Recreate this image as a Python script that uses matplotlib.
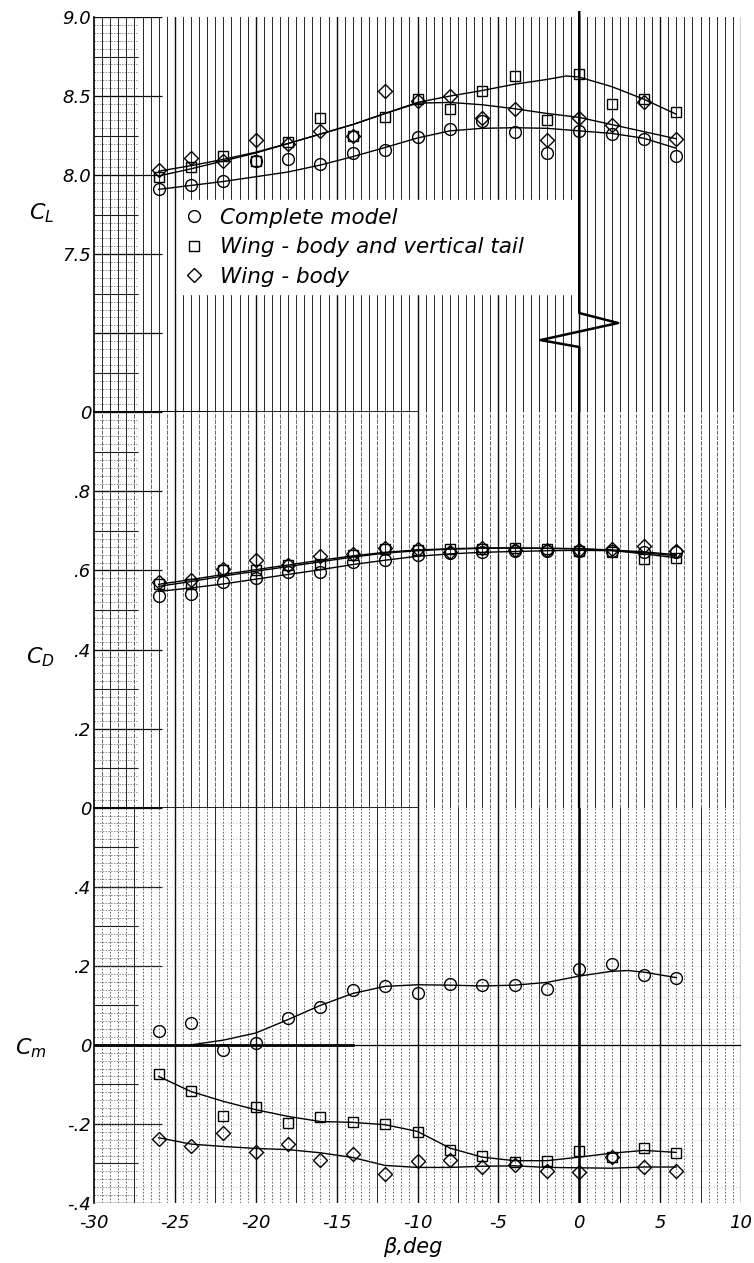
import matplotlib
matplotlib.use("Agg")
import matplotlib.pyplot as plt
import numpy as np
from matplotlib.lines import Line2D

# ---------------- data ----------------
beta = [-26, -24, -22, -20, -18, -16, -14, -12, -10, -8, -6, -4, -2, 0, 2, 4, 6]

# lift coefficient test points
cl_complete = [7.91, 7.94, 7.96, 8.09, 8.10, 8.07, 8.14, 8.16, 8.24, 8.29, 8.34, 8.27, 8.14, 8.28, 8.26, 8.23, 8.12]
cl_wbv      = [7.99, 8.05, 8.12, 8.09, 8.21, 8.36, 8.25, 8.37, 8.48, 8.42, 8.53, 8.63, 8.35, 8.64, 8.45, 8.48, 8.40]
cl_wb       = [8.03, 8.11, 8.09, 8.22, 8.20, 8.28, 8.25, 8.53, 8.47, 8.50, 8.36, 8.42, 8.22, 8.36, 8.32, 8.46, 8.23]
# faired curves
cl_complete_fair = [7.91, 7.935, 7.96, 7.99, 8.02, 8.064, 8.117, 8.175, 8.235, 8.28, 8.296, 8.30, 8.296, 8.28, 8.264, 8.233, 8.17]
cl_wbv_fair_beta = [-26, -24, -22, -20, -18, -16, -14, -12, -10, -8, -6, -4, -2, -0.8, 0, 2, 4, 6]
cl_wbv_fair      = [7.995, 8.04, 8.09, 8.14, 8.20, 8.26, 8.32, 8.39, 8.46, 8.50, 8.535, 8.575, 8.605, 8.627, 8.62, 8.56, 8.48, 8.385]
cl_wb_fair       = [8.025, 8.06, 8.10, 8.145, 8.20, 8.26, 8.32, 8.39, 8.455, 8.46, 8.445, 8.42, 8.39, 8.365, 8.32, 8.275, 8.23]

# drag coefficient
cd_complete = [0.536, 0.541, 0.571, 0.582, 0.597, 0.595, 0.622, 0.626, 0.638, 0.644, 0.647, 0.649, 0.650, 0.650, 0.650, 0.647, 0.647]
cd_wbv      = [0.566, 0.566, 0.600, 0.602, 0.613, 0.616, 0.640, 0.655, 0.653, 0.655, 0.655, 0.658, 0.655, 0.650, 0.648, 0.630, 0.632]
cd_wb       = [0.570, 0.577, 0.603, 0.627, 0.615, 0.636, 0.642, 0.656, 0.655, 0.648, 0.657, 0.652, 0.652, 0.652, 0.654, 0.661, 0.649]
cd_complete_fair = [0.547, 0.556, 0.566, 0.578, 0.590, 0.602, 0.615, 0.626, 0.636, 0.642, 0.646, 0.648, 0.650, 0.651, 0.650, 0.645, 0.637]
cd_wbv_fair      = [0.560, 0.572, 0.586, 0.598, 0.610, 0.622, 0.634, 0.644, 0.650, 0.654, 0.656, 0.657, 0.656, 0.655, 0.651, 0.642, 0.632]
cd_wb_fair       = [0.565, 0.577, 0.590, 0.602, 0.614, 0.626, 0.637, 0.646, 0.652, 0.655, 0.657, 0.657, 0.656, 0.655, 0.652, 0.647, 0.640]

# pitching-moment coefficient
cm_complete = [0.034, 0.055, -0.013, 0.004, 0.067, 0.097, 0.139, 0.149, 0.131, 0.153, 0.152, 0.152, 0.142, 0.191, 0.205, 0.177, 0.170]
cm_wbv      = [-0.073, -0.116, -0.180, -0.158, -0.198, -0.183, -0.195, -0.200, -0.220, -0.265, -0.280, -0.297, -0.293, -0.269, -0.284, -0.261, -0.273]
cm_wb       = [-0.237, -0.255, -0.222, -0.270, -0.250, -0.291, -0.276, -0.327, -0.295, -0.291, -0.309, -0.304, -0.319, -0.322, -0.283, -0.308, -0.319]
cm_complete_fair_beta = [-24, -22, -20, -18, -16, -14, -12, -10, -8, -6, -4, -2, 0, 2, 3, 4, 6]
cm_complete_fair      = [0.0, 0.012, 0.030, 0.064, 0.100, 0.130, 0.148, 0.152, 0.151, 0.149, 0.151, 0.158, 0.174, 0.186, 0.188, 0.184, 0.170]
cm_wbv_fair = [-0.080, -0.118, -0.143, -0.164, -0.181, -0.194, -0.196, -0.202, -0.219, -0.261, -0.284, -0.293, -0.293, -0.284, -0.274, -0.267, -0.272]
cm_wb_fair  = [-0.235, -0.251, -0.257, -0.262, -0.265, -0.273, -0.285, -0.305, -0.310, -0.310, -0.307, -0.306, -0.310, -0.311, -0.312, -0.309, -0.309]

series_labels = ["Complete model", "Wing - body and vertical tail", "Wing - body"]
x_ticks = [-30, -25, -20, -15, -10, -5, 0, 5, 10]
x_ticklabels = ["-30", "-25", "-20", "-15", "-10", "-5", "0", "5", "10"]
cl_ticks, cl_ticklabels = [6.5, 7.5, 8.0, 8.5, 9.0], ["0", "7.5", "8.0", "8.5", "9.0"]
cd_ticks, cd_ticklabels = [0.0, 0.2, 0.4, 0.6, 0.8], ["0", ".2", ".4", ".6", ".8"]
cm_ticks, cm_ticklabels = [-0.4, -0.2, 0.0, 0.2, 0.4], ["-.4", "-.2", "0", ".2", ".4"]

# ---------------- figure ----------------
FONT = ["Liberation Sans Narrow", "DejaVu Sans"]
fig = plt.figure(figsize=(7.54, 12.63), dpi=100)
L, W = 94 / 754, 647 / 754
H = 395.35 / 1263
ax_cl = fig.add_axes([L, 1 - 412.35 / 1263, W, H])
ax_cd = fig.add_axes([L, 1 - 807.7 / 1263, W, H])
ax_cm = fig.add_axes([L, 1 - 1203 / 1263, W, H])


def paper(ax, y0, y1, major, solid_every, dash):
    ax.set_xlim(-30, 10)
    ax.set_ylim(y0, y1)
    for s in ["top", "right", "bottom"]:
        ax.spines[s].set_visible(False)
    ax.spines["left"].set_linewidth(1.2)
    ax.tick_params(length=0)
    # left band of horizontal lines
    minor = major / 10
    ys = np.arange(y0, y1 + 1e-9, minor)
    ax.hlines(ys, -30, -27.3, color="0.35", lw=0.5, ls=(0, (2, 2)), zorder=0)
    half = np.arange(y0, y1 + 1e-9, major / 2)
    ax.hlines(half, -30, -27.3, color="0.1", lw=0.8, zorder=0)
    full = np.arange(y0, y1 + 1e-9, major)
    ax.hlines(full, -30, -25.8, color="0.05", lw=0.9, zorder=0)
    # vertical graph-paper lines
    for x in np.arange(-29.5, 10.01, 0.5):
        if abs(x % 5) < 1e-9:
            ax.axvline(x, color="0.05", lw=1.0, zorder=0.5)
        elif abs(x % solid_every) < 1e-9:
            ax.axvline(x, color="0.15", lw=0.7, zorder=0.5)
        else:
            ax.axvline(x, color="0.3", lw=0.6, ls=dash, zorder=0.5)


paper(ax_cl, 6.5, 9.0, 0.5, 0.5, (0, (6, 1.5)))
paper(ax_cd, 0.0, 1.0, 0.2, 1.0, (0, (5, 1.5)))
paper(ax_cm, -0.4, 0.6, 0.2, 2.5, (0, (2, 2)))

# dotted horizontal pattern in the moment panel
ax_cm.hlines(np.arange(-0.4, 0.6, 0.04), -30, 10, color="0.6", lw=0.5, ls=(0, (1, 3)), zorder=0)

# heavy reference lines
ax_cl.plot([-30, -23], [6.5, 6.5], color="k", lw=2.2, zorder=1)
ax_cl.plot([-23, -10], [6.5, 6.5], color="k", lw=1.2, zorder=1)
ax_cd.plot([-30, -26], [0, 0], color="k", lw=2.2, zorder=1)
ax_cd.plot([-26, -10], [0, 0], color="k", lw=1.2, zorder=1)
ax_cm.axhline(0, color="k", lw=0.9, zorder=1)
ax_cm.plot([-30, -14], [0, 0], color="k", lw=2.0, zorder=1)
ax_cd.axvline(0, color="k", lw=1.6, zorder=1)
ax_cm.axvline(0, color="k", lw=1.8, zorder=1)
# broken-axis zigzag on the beta = 0 line of the lift panel
ax_cl.plot([0, 0, 2.4, -2.4, 0, 0], [9.03, 7.128, 7.065, 6.957, 6.913, 6.5],
           color="k", lw=1.8, zorder=1, clip_on=False)

mk = dict(ls="none", mfc="none", mec="k", mew=1.0, zorder=4)
styles = [("o", 8.5), ("s", 7.5), ("D", 7.0)]


def draw(ax, pts, fairs):
    for (m, ms), y in zip(styles, pts):
        ax.plot(beta, y, marker=m, ms=ms, **mk)
    for fx, fy in fairs:
        ax.plot(fx, fy, color="k", lw=1.0, zorder=3)


draw(ax_cl, [cl_complete, cl_wbv, cl_wb],
     [(beta, cl_complete_fair), (cl_wbv_fair_beta, cl_wbv_fair), (beta, cl_wb_fair)])
draw(ax_cd, [cd_complete, cd_wbv, cd_wb],
     [(beta, cd_complete_fair), (beta, cd_wbv_fair), (beta, cd_wb_fair)])
draw(ax_cm, [cm_complete, cm_wbv, cm_wb],
     [(cm_complete_fair_beta, cm_complete_fair), (beta, cm_wbv_fair), (beta, cm_wb_fair)])

# ticks
tick_font = dict(family=FONT, style="italic", size=13)
for ax, t, tl in [(ax_cl, cl_ticks, cl_ticklabels), (ax_cd, cd_ticks, cd_ticklabels),
                  (ax_cm, cm_ticks, cm_ticklabels)]:
    ax.set_yticks(t)
    ax.set_yticklabels(tl, **tick_font)
    ax.tick_params(axis="y", pad=2)
for ax in (ax_cl, ax_cd):
    ax.set_xticks([])
ax_cm.set_xticks(x_ticks)
ax_cm.set_xticklabels(x_ticklabels, **tick_font)
ax_cm.tick_params(axis="x", pad=8)

# legend (white box without border)
handles = [Line2D([], [], marker=m, ms=ms, ls="none", mfc="none", mec="k", mew=1.0)
           for m, ms in styles]
leg = ax_cl.legend(handles, series_labels, loc="upper left",
                   bbox_to_anchor=(0.128, 0.30, 0.6105, 0.237), mode="expand",
                   frameon=True, fancybox=False, framealpha=1, facecolor="white",
                   edgecolor="white", borderpad=0.35, handlelength=0.9, handletextpad=0.75,
                   labelspacing=0.45, borderaxespad=0,
                   prop=dict(family="DejaVu Sans", style="italic", size=15.5))
leg.set_zorder(10)

# axis labels
lab = dict(ha="center", va="center", fontsize=16)
fig.text(42 / 754, 1 - 213 / 1263, r"$C_L$", **lab)
fig.text(40 / 754, 1 - 657 / 1263, r"$C_D$", **lab)
fig.text(31 / 754, 1 - 1048 / 1263, r"$C_m$", **lab)
fig.text(413 / 754, 1 - 1247 / 1263, "β,deg", ha="center", va="center",
         family=FONT, style="italic", size=15)

fig.savefig("out.png", dpi=100)
